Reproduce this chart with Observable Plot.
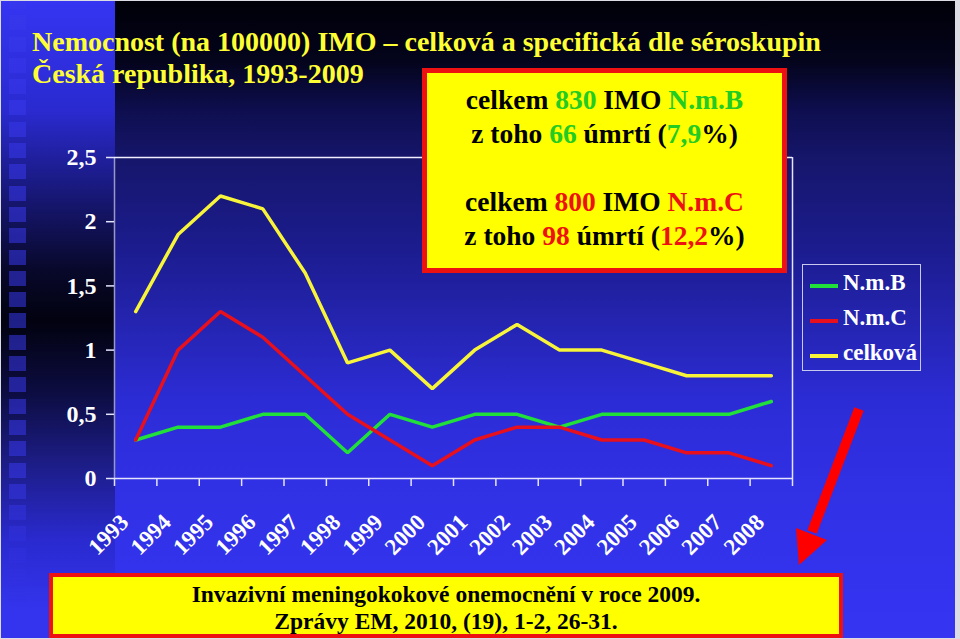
<!DOCTYPE html>
<html>
<head>
<meta charset="utf-8">
<script src="https://cdn.jsdelivr.net/npm/d3@7"></script>
<script src="https://cdn.jsdelivr.net/npm/@observablehq/plot@0.6"></script>
<style>
  html, body { margin:0; padding:0; }
  body { width:960px; height:639px; overflow:hidden; position:relative; background:#dcdce4; }
  #title, #info, #legend, #foot { font-family:'Liberation Serif', serif; font-weight:bold; }
  #slide { position:absolute; left:1px; top:1px; width:954px; height:637px; overflow:hidden;
    background: linear-gradient(to bottom, #000008 0px, #04041c 60px, #0e0e50 110px, #16166c 160px, #1c1c90 250px, #2424b0 320px, #2c2cd6 400px, #3030e4 480px, #3434f0 600px, #3535f2 639px); }
  #strip { position:absolute; left:0; top:0; width:114px; height:637px;
    background: linear-gradient(to bottom, #3535f2 0px, #2a2ad0 110px, #161670 200px, #08082a 270px, #020210 320px, #0c0c40 390px, #1c1c84 460px, #2a2ad0 540px, #3434ee 610px); }
  #squares { position:absolute; left:8px; top:0; width:17px; height:600px;
    background: repeating-linear-gradient(to bottom, rgba(56,56,235,0.55) 0px, rgba(56,56,235,0.55) 15px, transparent 15px, transparent 21.3px);
    background-position: 0 -7px;
    -webkit-mask-image: linear-gradient(to bottom, #000 0%, #000 80%, transparent 100%);
    mask-image: linear-gradient(to bottom, #000 0%, #000 80%, transparent 100%); }
  #chart { position:absolute; left:-1px; top:-1px; }
  #title { position:absolute; left:32px; top:26px; color:#ffff33; font-size:28px; line-height:32px; white-space:nowrap; }
  #info { position:absolute; left:422px; top:68px; width:355px; height:185px; background:#ffff00; border:5px solid #ee1111;
    color:#000; font-size:27.5px; line-height:34px; text-align:center; padding-top:10px; box-sizing:content-box; white-space:nowrap; }
  #info .g { color:#22cc22; }
  #info .r { color:#ee1111; }
  #legend { position:absolute; left:802px; top:264px; width:117px; height:105px; border:1.5px solid #c8c8f0; color:#fff; font-size:23px; }
  #legend .row { position:absolute; left:7px; height:24px; white-space:nowrap; }
  #legend .sw { position:absolute; left:0; top:11px; width:28px; height:3.5px; }
  #legend .lb { position:absolute; left:33px; top:-3px; }
  #foot { position:absolute; left:49px; top:573px; width:786px; height:53px; background:#ffff00; border:4px solid #ee1111;
    color:#000; font-size:23.5px; line-height:27px; text-align:center; padding-top:4px; white-space:nowrap; }
  #arrow { position:absolute; left:-1px; top:-1px; }
</style>
</head>
<body>
<div id="slide">
  <div id="strip"><div id="squares"></div></div>
</div>
<div id="chart"></div>
<div id="title">Nemocnost (na 100000) IMO – celková a specifická dle séroskupin<br>Česká republika, 1993-2009</div>
<div id="info">
  celkem <span class="g">830</span> IMO <span class="g">N.m.B</span><br>
  z toho <span class="g">66</span> úmrtí (<span class="g">7,9</span>%)<br>
  &nbsp;<br>
  celkem <span class="r">800</span> IMO <span class="r">N.m.C</span><br>
  z toho <span class="r">98</span> úmrtí (<span class="r">12,2</span>%)
</div>
<div id="legend"></div>
<div id="foot">Invazivní meningokokové onemocnění v roce 2009.<br>Zprávy EM, 2010, (19), 1-2, 26-31.</div>
<svg id="arrow" width="960" height="639">
  <line x1="860" y1="410" x2="813" y2="533" stroke="#ff0000" stroke-width="10"/>
  <polygon points="800,566 797,529 828,541" fill="#ff0000"/>
</svg>
<script>
// ---- data ----
const years = [1993,1994,1995,1996,1997,1998,1999,2000,2001,2002,2003,2004,2005,2006,2007,2008];
const nmB     = [0.3,0.4,0.4,0.5,0.5,0.2,0.5,0.4,0.5,0.5,0.4,0.5,0.5,0.5,0.5,0.6];
const nmC     = [0.3,1.0,1.3,1.1,0.8,0.5,0.3,0.1,0.3,0.4,0.4,0.3,0.3,0.2,0.2,0.1];
const celkova = [1.3,1.9,2.2,2.1,1.6,0.9,1.0,0.7,1.0,1.2,1.0,1.0,0.9,0.8,0.8,0.8];
const seriesNames = ["N.m.B","N.m.C","celková"];
const seriesColors = ["#22e03a","#e8101c","#f8f43a"];
const yTicks = [0,0.5,1,1.5,2,2.5];

const seriesValues = [nmB, nmC, celkova];
const data = [];
seriesNames.forEach((s, i) => years.forEach((yr, j) => data.push({series:s, year:yr, value:seriesValues[i][j]})));
const bounds = years.map(y => y - 0.5).concat([years[years.length-1] + 0.5]);

const chart = Plot.plot({
  width: 960, height: 639,
  marginLeft: 115, marginRight: 167, marginTop: 158, marginBottom: 160,
  style: {background:"transparent", color:"#ffffff", fontFamily:"'Liberation Serif', serif", fontWeight:"bold", fontSize:"24px", overflow:"visible"},
  x: {type:"linear", domain:[bounds[0], bounds[bounds.length-1]]},
  y: {domain:[0,2.5]},
  color: {domain: seriesNames, range: seriesColors},
  marks: [
    Plot.ruleX([bounds[0]], {stroke:"#9898c8", strokeWidth:1.5}),
    Plot.ruleX([bounds[bounds.length-1]], {stroke:"#e4e4ff", strokeWidth:1.5}),
    Plot.ruleY([2.5], {stroke:"#f0f0ff", strokeWidth:1.5}),
    Plot.ruleY([0], {stroke:"#e4e4ff", strokeWidth:1.5}),
    Plot.axisY({ticks: yTicks, tickSize: 8, tickPadding: 10, stroke:"#e4e4ff", strokeWidth:1.5,
      tickFormat: d => String(d).replace(".", ","), fontSize: 24, fontFamily:"'Liberation Serif', serif", fontWeight:"bold", label: null}),
    Plot.axisX({ticks: bounds, tickSize: 8, tickFormat: () => "", stroke:"#e4e4ff", strokeWidth:1.5, label: null}),
    Plot.axisX({ticks: years, tickSize: 0, tickPadding: 40, dx: -11, tickRotate: -45, tickFormat: d => String(d),
      fontSize: 23, fontFamily:"'Liberation Serif', serif", fontWeight:"bold", label: null}),
    Plot.line(data, {x:"year", y:"value", z:"series", stroke:"series", strokeWidth:3.5, strokeLinejoin:"miter"})
  ]
});
document.getElementById("chart").appendChild(chart);

// legend built from the same series
const lg = document.getElementById("legend");
seriesNames.forEach((s, i) => {
  const row = document.createElement("div");
  row.className = "row";
  row.style.top = (8 + i * 35) + "px";
  row.innerHTML = `<div class="sw" style="background:${seriesColors[i]}"></div><div class="lb">${s}</div>`;
  lg.appendChild(row);
});
</script>
</body>
</html>
